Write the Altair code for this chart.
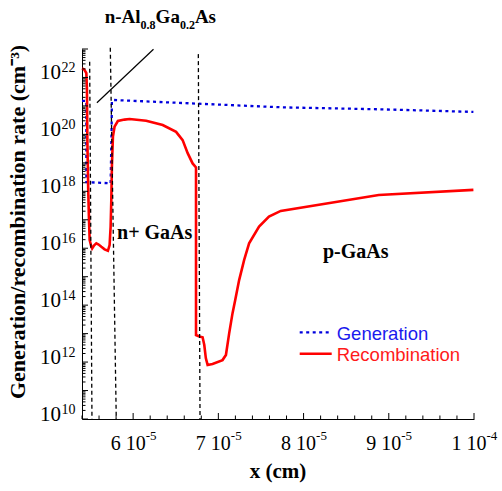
import altair as alt
import pandas as pd

# ---------------- data (x in units of 1e-5 cm, rates as log10 of cm^-3) ----------------
rec_x = [5.400, 5.426, 5.451, 5.458, 5.463, 5.473, 5.482, 5.490, 5.510, 5.519, 5.543, 5.568,
         5.595, 5.627, 5.665, 5.704, 5.724, 5.736, 5.744, 5.751, 5.763, 5.782, 5.821, 5.899,
         5.958, 6.153, 6.347, 6.504, 6.581, 6.640, 6.698, 6.738, 6.738, 6.777, 6.815, 6.835,
         6.853, 6.874, 6.932, 7.049, 7.089, 7.127, 7.166, 7.198, 7.244, 7.303, 7.361, 7.478,
         7.594, 7.732, 8.882, 9.993]
rec_log = [22.32, 22.28, 22.15, 21.56, 19.80, 18.05, 16.99, 16.29, 16.05, 15.99, 16.10, 16.17,
           16.13, 16.05, 15.96, 15.91, 16.11, 16.76, 17.69, 18.87, 19.92, 20.27, 20.47, 20.52,
           20.54, 20.48, 20.33, 20.09, 19.80, 19.34, 18.98, 18.84, 12.95, 12.90, 12.87, 12.60,
           12.14, 11.90, 11.93, 12.07, 12.25, 13.01, 13.71, 14.18, 14.88, 15.59, 16.17, 16.76,
           17.11, 17.31, 17.87, 18.05]

gen_x = [5.400, 5.451, 5.451, 5.549, 5.736, 5.747, 5.751, 5.763, 7.361, 7.751, 8.920, 9.993]
gen_log = [21.18, 21.18, 18.32, 18.31, 18.28, 20.15, 21.17, 21.21, 21.00, 20.95, 20.88, 20.79]

# layer boundaries (dashed), drawn slightly slanted as in the figure
bnd_x_top = [5.490, 5.732, 6.765]
bnd_x_bot = [5.517, 5.802, 6.785]
bnd_log_top = [22.55, 23.04, 22.82]

# pointer line to the AlGaAs window layer
ptr_x = [5.575, 6.239]
ptr_log = [21.11, 22.99]

y_label_exps = [10, 12, 14, 16, 18, 20, 22]
x_label_vals = [6, 7, 8, 9, 10]
x_label_main = ["6 10", "7 10", "8 10", "9 10", "1 10"]
x_label_sup = ["-5", "-5", "-5", "-5", "-4"]

# ---------------- tables ----------------
rec_df = pd.DataFrame({"x": rec_x, "v": [10 ** l for l in rec_log], "i": range(len(rec_x))})
gen_df = pd.DataFrame({"x": gen_x, "v": [10 ** l for l in gen_log], "i": range(len(gen_x))})
bnd_df = pd.DataFrame({"x1": bnd_x_top, "x2": bnd_x_bot,
                       "y1": [10 ** l for l in bnd_log_top], "y2": [1e10] * 3})
ptr_df = pd.DataFrame({"x1": [ptr_x[0]], "x2": [ptr_x[1]],
                       "y1": [10 ** ptr_log[0]], "y2": [10 ** ptr_log[1]]})

ymaj = pd.DataFrame({"v": [10.0 ** n for n in range(10, 24)]})
ymin = pd.DataFrame({"v": [k * 10.0 ** n for n in range(10, 23) for k in range(2, 10)]})
xmaj = pd.DataFrame({"u": [6.0, 7.0, 8.0, 9.0, 10.0]})
xmin = pd.DataFrame({"u": [round(5.4 + 0.2 * i, 2) for i in range(24)
                           if abs((5.4 + 0.2 * i) - round(5.4 + 0.2 * i)) > 1e-6]})

ylab = pd.DataFrame({"v": [10.0 ** e for e in y_label_exps], "base": ["10"] * len(y_label_exps),
                     "exp": [str(e) for e in y_label_exps]})
xlab = pd.DataFrame({"u": x_label_vals, "main": x_label_main, "sup": x_label_sup})

W, H = 392, 370
xs = alt.Scale(domain=[5.4, 10.0], nice=False, zero=False)
ys = alt.Scale(type="log", domain=[1e10, 1e23], nice=False)
AX = alt.Axis(title="", labels=False, ticks=False, grid=False, domain=True,
              domainColor="black", domainWidth=1)

SERIF = "Liberation Serif"
SANS = "Liberation Sans"

def X(f):
    return alt.X(f, type="quantitative", scale=xs, axis=AX)

def Y(f):
    return alt.Y(f, type="quantitative", scale=ys, axis=AX)

one = pd.DataFrame({"a": [0]})

def txt(s, x, y, size, weight="normal", align="left", color="black", font=SERIF, angle=0):
    kw = dict(text=s, fontSize=size, fontWeight=weight, align=align, color=color,
              font=font, baseline="alphabetic")
    if angle:
        kw["angle"] = angle
    return alt.Chart(one).mark_text(**kw).encode(x=alt.value(x), y=alt.value(y))

def seg(x1, x2, y, color, dash=None, width=2.5):
    kw = dict(color=color, strokeWidth=width)
    if dash:
        kw["strokeDash"] = dash
    return alt.Chart(one).mark_rule(**kw).encode(x=alt.value(x1), x2=alt.value(x2), y=alt.value(y))

# ---------------- layers ----------------
gen_line = alt.Chart(gen_df).mark_line(color="#0000dd", strokeWidth=2.3, strokeDash=[3, 3.5]).encode(
    x=X("x"), y=Y("v"), order="i:Q")
rec_line = alt.Chart(rec_df).mark_line(color="#ff0000", strokeWidth=2.6).encode(
    x=X("x"), y=Y("v"), order="i:Q")
bnd = alt.Chart(bnd_df).mark_rule(color="black", strokeWidth=1.3, strokeDash=[4, 3]).encode(
    x=X("x1"), x2="x2", y=Y("y1"), y2="y2")
ptr = alt.Chart(ptr_df).mark_rule(color="black", strokeWidth=1.2).encode(
    x=X("x1"), x2="x2", y=Y("y1"), y2="y2")

yt_maj = alt.Chart(ymaj).mark_rule(color="black", strokeWidth=1).encode(
    y=Y("v"), x=alt.value(0), x2=alt.value(6))
yt_min = alt.Chart(ymin).mark_rule(color="black", strokeWidth=1).encode(
    y=Y("v"), x=alt.value(0), x2=alt.value(3.5))
xt_maj = alt.Chart(xmaj).mark_rule(color="black", strokeWidth=1).encode(
    x=X("u"), y=alt.value(H), y2=alt.value(H - 6))
xt_min = alt.Chart(xmin).mark_rule(color="black", strokeWidth=1).encode(
    x=X("u"), y=alt.value(H), y2=alt.value(H - 3.5))

ylab_main = alt.Chart(ylab).mark_text(font=SERIF, fontSize=21, align="right",
                                      baseline="alphabetic", dy=2).encode(
    y=Y("v"), x=alt.value(-21), text="base:N")
ylab_sup = alt.Chart(ylab).mark_text(font=SERIF, fontSize=14, align="left",
                                     baseline="alphabetic", dy=-5).encode(
    y=Y("v"), x=alt.value(-20.5), text="exp:N")
xlab_main = alt.Chart(xlab).mark_text(font=SERIF, fontSize=20, align="right",
                                      baseline="alphabetic", dx=12.5).encode(
    x=X("u"), y=alt.value(401), text="main:N")
xlab_sup = alt.Chart(xlab).mark_text(font=SERIF, fontSize=13, align="left",
                                     baseline="alphabetic", dx=12.5).encode(
    x=X("u"), y=alt.value(391), text="sup:N")

annots = [
    txt("n-Al", 22.7, -26, 19, "bold"),
    txt("0.8", 58.6, -20, 12, "bold"),
    txt("Ga", 73.6, -26, 19, "bold"),
    txt("0.2", 97.9, -20, 12, "bold"),
    txt("As", 112.9, -26, 19, "bold"),
    txt("n+ GaAs", 72.7, 189.5, 20, "bold", "center"),
    txt("p-GaAs", 273.7, 209, 20, "bold", "center"),
    txt("Generation", 254.7, 291.4, 18.5, color="#1a1aee", font=SANS),
    txt("Recombination", 254.7, 312.4, 18.5, color="#ff1a1a", font=SANS),
    txt("x (cm)", 196, 429, 21, "bold", "center"),
    txt("Generation/recombination rate (cm\u207b\u00b3)", -57, 173, 22, "bold", "center", angle=270),
    seg(217.7, 249.7, 283.4, "#0000dd", dash=[3, 3.5], width=2.3),
    seg(217.7, 249.7, 304.7, "#ff0000", width=2.6),
]

chart = alt.layer(
    gen_line, rec_line, bnd, ptr, yt_maj, yt_min, xt_maj, xt_min,
    ylab_main, ylab_sup, xlab_main, xlab_sup, *annots
).properties(
    width=W, height=H,
    autosize=alt.AutoSizeParams(type="none"),
    padding={"left": 82, "top": 49, "right": 28, "bottom": 72},
    background="white",
).configure_view(stroke=None)

chart.save("out.html", embed_options={"renderer": "svg", "actions": False})
